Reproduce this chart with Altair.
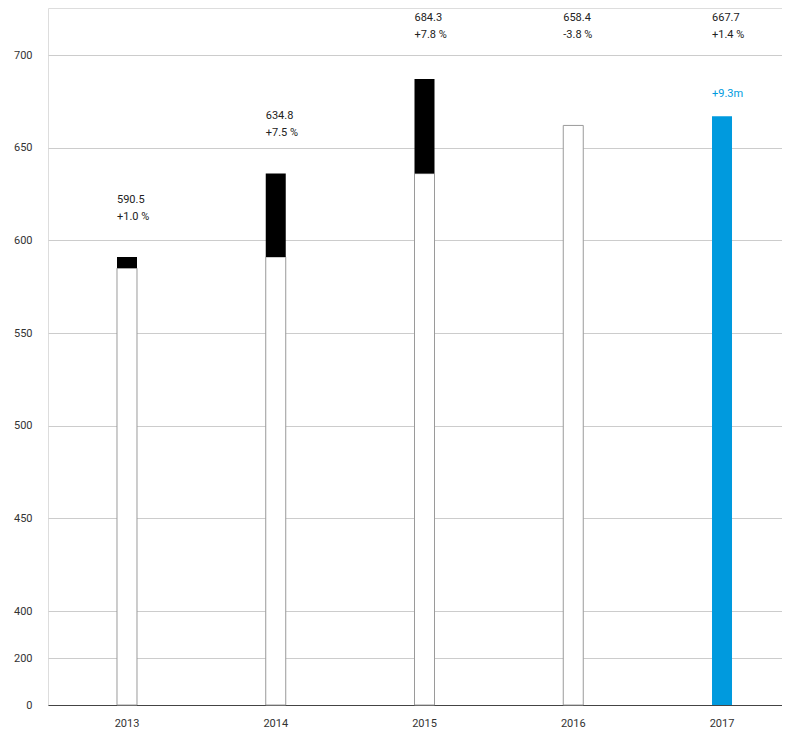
import altair as alt
import pandas as pd

years = ["2013", "2014", "2015", "2016", "2017"]
value_labels = ["590.5", "634.8", "684.3", "658.4", "667.7"]
change_labels = ["+1.0 %", "+7.5 %", "+7.8 %", "-3.8 %", "+1.4 %"]
# bar heights as drawn
white_top = [585.0, 591.0, 636.0, 662.0, None]
black_base = [585.0, 591.0, 636.0, None, None]
black_top = [591.0, 636.0, 687.0, None, None]
blue_top = [None, None, None, None, 667.0]
bar_top = [591.0, 636.0, 687.0, 662.0, 667.0]
blue_label = ["", "", "", "", "+9.3m"]
y_ticks = [0, 200, 400, 450, 500, 550, 600, 650, 700]

df = pd.DataFrame({
    "year": years,
    "value_label": value_labels,
    "change_label": change_labels,
    "white_top": white_top,
    "black_base": black_base,
    "black_top": black_top,
    "blue_top": blue_top,
    "bar_top": bar_top,
    "blue_label": blue_label,
    "zero": [0] * len(years),
})

FONT = "Roboto"
BLUE = "#009ade"

yscale = alt.Scale(domain=[0, 200, 400, 700], range=[697, 650, 603, 47],
                   nice=False, zero=False, clamp=False)
xenc = alt.X("year:N", sort=years,
             scale=alt.Scale(paddingInner=0, paddingOuter=0.031, range=[0, 753]),
             axis=alt.Axis(title=None, labelAngle=0, ticks=False, domain=True,
                           domainColor="#444", domainWidth=1, labelPadding=12,
                           grid=False, labelColor="#333", labelFontSize=11,
                           labelFont=FONT))

base = alt.Chart(df)

white = base.transform_filter("isValid(datum.white_top)").mark_bar(
    color="white", stroke="#9a9a9a", strokeWidth=1, size=20
).encode(
    x=xenc,
    y=alt.Y("white_top:Q", scale=yscale,
            axis=alt.Axis(title=None, values=y_ticks, grid=True, gridColor="#cccccc",
                          gridWidth=1, ticks=False, domain=False, labelPadding=16,
                          labelColor="#333", labelFontSize=11, labelFont=FONT)),
    y2="zero:Q",
)

black = base.transform_filter("isValid(datum.black_top)").mark_bar(
    color="black", size=20
).encode(x=xenc, y=alt.Y("black_top:Q", scale=yscale), y2="black_base:Q")

blue = base.transform_filter("isValid(datum.blue_top)").mark_bar(
    color=BLUE, size=20
).encode(x=xenc, y=alt.Y("blue_top:Q", scale=yscale), y2="zero:Q")

lab = base.transform_calculate(
    label_y="datum.bar_top + 31 > 680 ? 720 : datum.bar_top + 31")

t1 = lab.mark_text(align="left", baseline="middle", dx=-10, fontSize=11,
                   font=FONT, color="#222").encode(
    x=xenc, y=alt.Y("label_y:Q", scale=yscale), text="value_label:N")
t2 = lab.mark_text(align="left", baseline="middle", dx=-10, dy=17, fontSize=11,
                   font=FONT, color="#222").encode(
    x=xenc, y=alt.Y("label_y:Q", scale=yscale), text="change_label:N")

t3 = base.transform_filter("datum.blue_label != ''").mark_text(
    align="left", baseline="middle", dx=-10, dy=-22, fontSize=11, font=FONT, color=BLUE
).encode(x=xenc, y=alt.Y("bar_top:Q", scale=yscale), text="blue_label:N")

chart = alt.layer(white, black, blue, t1, t2, t3).properties(
    width=734, height=697,
    autosize=alt.AutoSizeParams(type="none"),
    padding={"left": 40, "top": 0, "right": 0, "bottom": 23},
).configure_view(stroke=None).configure(font=FONT)

chart.save("out.html", embed_options={"renderer": "svg", "actions": False})
